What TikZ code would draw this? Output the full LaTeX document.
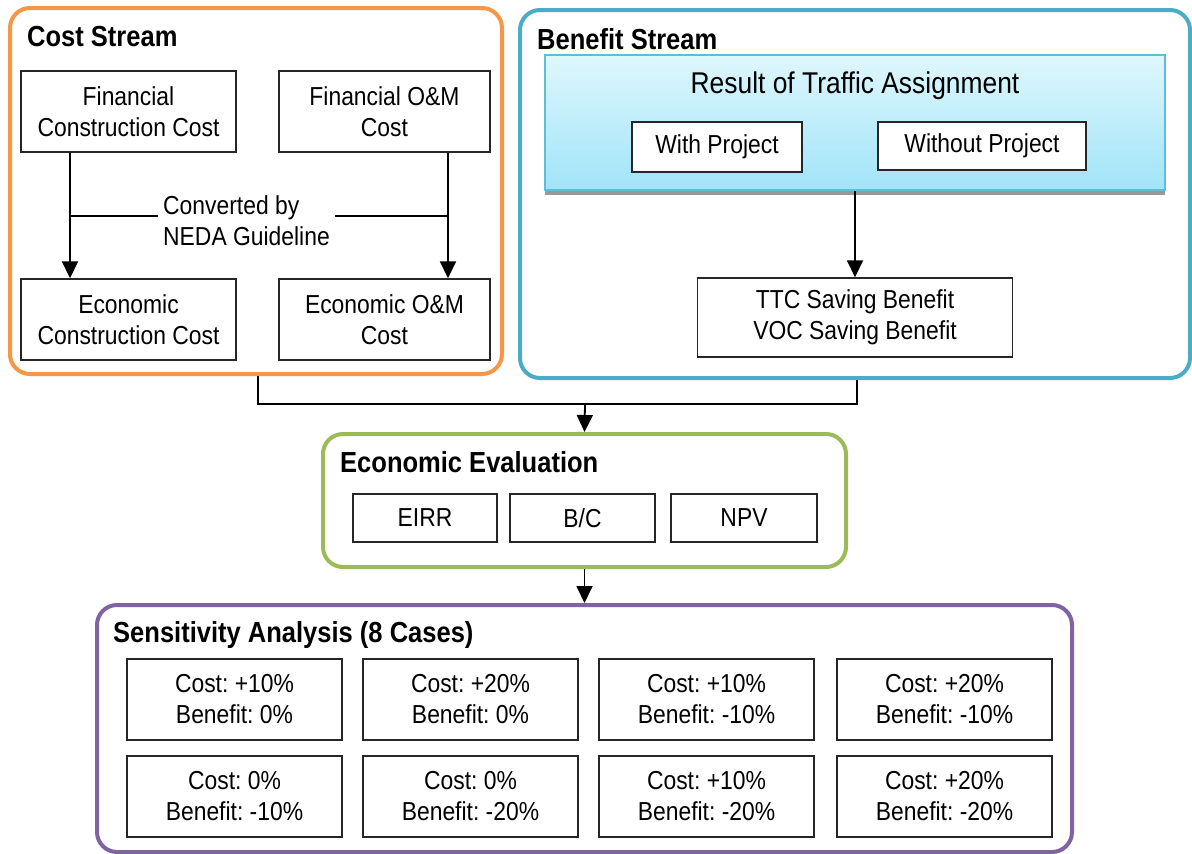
\documentclass[tikz,border=0pt]{standalone}
\usepackage{fontspec}
\setmainfont{Liberation Sans}[FakeStretch=0.88]
\usetikzlibrary{arrows.meta,calc}
\definecolor{costc}{HTML}{F79646}
\definecolor{benc}{HTML}{4BACC6}
\definecolor{evalc}{HTML}{9BBB59}
\definecolor{sensc}{HTML}{8064A2}
\definecolor{shtop}{HTML}{DFF7FD}
\definecolor{shbot}{HTML}{A0E4F8}
\definecolor{resedge}{HTML}{5FBDD6}
\newcommand{\regfont}{\fontsize{26}{31}\selectfont}
\newcommand{\ttlfont}{\fontsize{29}{34}\selectfont\bfseries}
\frenchspacing
\begin{document}
\begin{tikzpicture}[x=1pt,y=-1pt,
  group/.style={draw=#1,line width=4pt,rounded corners=20pt,fill=white,
    minimum width=\gw,minimum height=\gh,inner sep=0pt},
  ibox/.style={draw=black!85,line width=1.4pt,fill=white,align=center,
    inner sep=0pt,font=\regfont},
  ttl/.style={anchor=west,inner sep=0pt,font=\ttlfont},
  link/.style={line width=1.8pt},
  arr/.style={link,-{Triangle[width=16pt,length=17pt]}},
]
\useasboundingbox (0,0) rectangle (1192,854);
\fill[white] (0,0) rectangle (1192,854);

% ---- group frames
\def\gw{492pt}\def\gh{366pt}
\node[group=costc] (cost) at (256,191) {};
\def\gw{670pt}\def\gh{368pt}
\node[group=benc] (ben) at (855,194) {};
\def\gw{523pt}\def\gh{133pt}
\node[group=evalc] (eval) at (584.5,500.5) {};
\def\gw{975pt}\def\gh{247pt}
\node[group=sensc] (sens) at (584.5,728.5) {};

% ---- titles
\node[ttl] (tcost) at (27,37) {Cost Stream};
\node[ttl] (tben) at (537,39) {Benefit Stream};
\node[ttl] (teval) at (340,462) {Economic Evaluation};
\node[ttl] (tsens) at (113,635) {Sensitivity Analysis (8 Cases)};

% ---- cost stream
\node[ibox,minimum width=215pt,minimum height=81pt] (fcc) at (128.5,111.5) {Financial\\Construction Cost};
\node[ibox,minimum width=211pt,minimum height=81pt] (fom) at (384.5,111.5) {Financial O\&M\\Cost};
\node[ibox,minimum width=215pt,minimum height=81pt] (ecc) at (128.5,319.5) {Economic\\Construction Cost};
\node[ibox,minimum width=211pt,minimum height=81pt] (eom) at (384.5,319.5) {Economic O\&M\\Cost};
\node[anchor=west,align=left,inner sep=5pt,font=\regfont] (conv) at (158,221) {Converted by\\NEDA Guideline};
\draw[arr] ([xshift=-58.5pt]fcc.south) -- ([xshift=-58.5pt]ecc.north);
\draw[arr] ([xshift=63.5pt]fom.south) -- ([xshift=63.5pt]eom.north);
\draw[link] ([xshift=-58.5pt]fcc.south |- 0,216) -- (conv.west |- 0,216);
\draw[link] (conv.east |- 0,216) -- ([xshift=63.5pt]fom.south |- 0,216);

% ---- benefit stream
\fill[black!40] (545,62) rectangle (1165,195);
\node[draw=resedge,line width=1.6pt,top color=shtop,bottom color=shbot,
  minimum width=620pt,minimum height=135pt,inner sep=0pt] (res) at (855,122.5) {};
\node[font=\fontsize{30}{36}\selectfont,inner sep=0pt] (restxt) at (855,86) {Result of Traffic Assignment};
\node[ibox,minimum width=170pt,minimum height=50pt] (wp) at (717,147) {With Project};
\node[ibox,minimum width=208pt,minimum height=48pt] (wop) at (982,146) {Without Project};
\node[ibox,minimum width=315pt,minimum height=79pt] (ttc) at (855,317.5) {TTC Saving Benefit\\VOC Saving Benefit};
\draw[arr] (res.south) -- (ttc.north);

% ---- merge into evaluation
\coordinate (join) at (585,404);
\draw[link] ([xshift=2pt]cost.south) |- (join) -| ([xshift=2pt]ben.south);
\draw[arr] (join) -- (eval.north);

% ---- evaluation indicators
\node[ibox,minimum width=144pt,minimum height=48pt] (eirr) at (425,518) {EIRR};
\node[ibox,minimum width=145pt,minimum height=48pt] (bc) at (582.5,518) {B/C};
\node[ibox,minimum width=146pt,minimum height=48pt] (npv) at (744,518) {NPV};

\draw[arr] (eval.south) -- (sens.north);

% ---- sensitivity cases
\tikzset{case/.style={ibox,minimum width=215pt,minimum height=81pt}}
\node[case] (c1) at (234.5,699.5) {Cost: +10\%\\Benefit: 0\%};
\node[case] (c2) at (470.5,699.5) {Cost: +20\%\\Benefit: 0\%};
\node[case] (c3) at (706.5,699.5) {Cost: +10\%\\Benefit: -10\%};
\node[case] (c4) at (944.5,699.5) {Cost: +20\%\\Benefit: -10\%};
\node[case] (c5) at (234.5,796.5) {Cost: 0\%\\Benefit: -10\%};
\node[case] (c6) at (470.5,796.5) {Cost: 0\%\\Benefit: -20\%};
\node[case] (c7) at (706.5,796.5) {Cost: +10\%\\Benefit: -20\%};
\node[case] (c8) at (944.5,796.5) {Cost: +20\%\\Benefit: -20\%};
\end{tikzpicture}
\end{document}
